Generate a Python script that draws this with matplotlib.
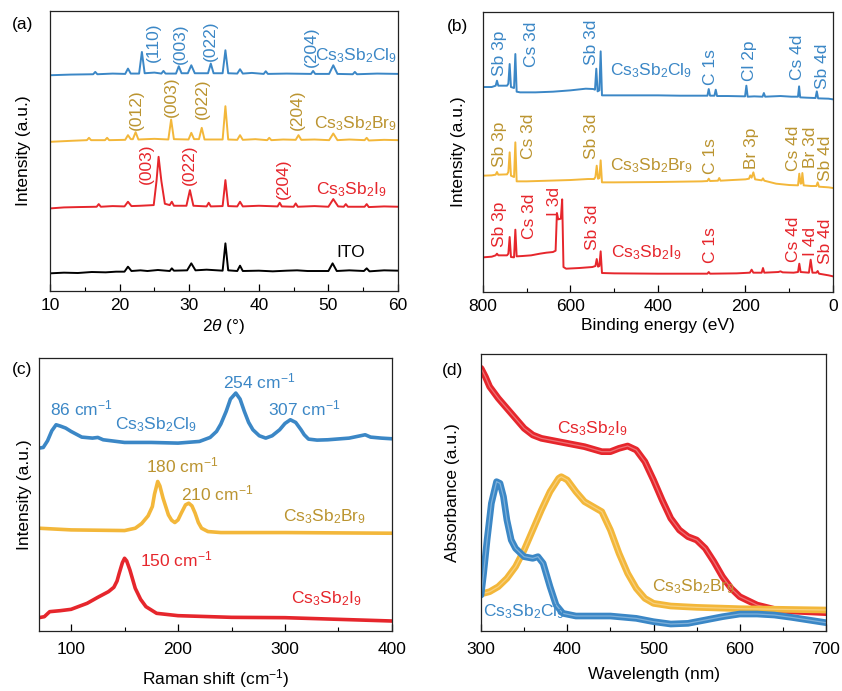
import numpy as np
import matplotlib
matplotlib.use('Agg')
import matplotlib.pyplot as plt
from matplotlib.ticker import MultipleLocator

plt.rcParams['font.family'] = ['Liberation Sans', 'DejaVu Sans']
plt.rcParams['mathtext.fontset'] = 'custom'
plt.rcParams['mathtext.rm'] = 'Liberation Sans'
plt.rcParams['mathtext.it'] = 'Liberation Sans:italic'
plt.rcParams['font.size'] = 12.5

BLUE = '#3b87c6'
YELLOW = '#f3b73a'
RED = '#e6262c'
GOLD_TXT = '#bb9430'

CL = 'Cs$_\\mathregular{3}$Sb$_\\mathregular{2}$Cl$_\\mathregular{9}$'
BR = 'Cs$_\\mathregular{3}$Sb$_\\mathregular{2}$Br$_\\mathregular{9}$'
IO = 'Cs$_\\mathregular{3}$Sb$_\\mathregular{2}$I$_\\mathregular{9}$'
CM = ' cm$^{\\mathregular{-1}}$'

# (a) XRD, 2theta in degrees, intensity in a.u. (offset stacks)
xrd_ito_x = [10, 12, 14, 16, 18, 19.5, 20.7, 21.2, 21.7, 23, 24, 25.5, 27.2, 27.5, 27.8, 29.7, 30.3, 30.9,
             32.5, 34.8, 35.2, 35.6, 36.9, 37.3, 37.7, 40, 42, 44, 45.5, 47, 50.0, 50.6, 51.2, 53,
             55.1, 55.5, 55.9, 58, 60]
xrd_ito_y = [53, 55, 54, 57, 56, 58, 58, 73, 60, 62, 60, 63, 60, 68, 61, 62, 83, 62,
             64, 61, 143, 62, 60, 76, 60, 61, 59, 61, 62, 60, 60, 83, 60, 62,
             60, 68, 59, 62, 61]
xrd_i_x = [10, 12, 14, 16.7, 17, 17.3, 19, 20.7, 21.2, 21.7, 23, 24.9, 25.3, 25.6, 26.0, 26.5, 27.2, 27.5,
           27.8, 29.6, 30.1, 30.6, 32.5, 32.8, 33.1, 34.8, 35.2, 35.6, 36.9, 37.3, 37.7, 40, 42.7, 43.0,
           43.3, 45.0, 45.3, 45.6, 48, 50.0, 50.7, 51.4, 52.2, 52.5, 52.8, 55.2, 55.5, 55.8, 58, 60]
xrd_i_y = [248, 251, 252, 253, 261, 253, 255, 254, 268, 255, 256, 258, 330, 403, 330, 262, 258, 268,
           256, 256, 303, 256, 254, 265, 254, 255, 333, 255, 254, 268, 254, 256, 254, 265,
           254, 253, 263, 253, 255, 253, 276, 254, 253, 261, 253, 253, 261, 252, 254, 253]
xrd_br_x = [10, 13, 15.3, 15.6, 15.9, 17.9, 18.2, 18.5, 20.8, 21.2, 21.6, 21.9, 22.3, 22.7, 25, 27.0, 27.4,
            27.8, 29.9, 30.3, 30.7, 31.4, 31.8, 32.2, 34.8, 35.2, 35.6, 36.9, 37.3, 37.7, 39.5, 41.2,
            41.5, 41.8, 43.5, 45.3, 45.7, 46.1, 48, 50.1, 50.7, 51.3, 53, 55.2, 55.5, 55.8, 58, 60]
xrd_br_y = [448, 451, 453, 460, 453, 453, 460, 453, 454, 468, 456, 456, 477, 455, 457, 455, 515,
            456, 455, 475, 456, 456, 490, 455, 455, 555, 455, 454, 468, 454, 456, 453,
            460, 453, 455, 454, 468, 454, 455, 453, 473, 453, 455, 453, 460, 452, 454, 453]
xrd_cl_x = [10, 13, 16.2, 16.5, 16.8, 19, 20.8, 21.2, 21.6, 22.8, 23.2, 23.6, 25, 26.0, 26.3, 26.6, 28.1,
            28.5, 28.9, 29.8, 30.3, 30.8, 32.7, 33.1, 33.5, 34.8, 35.2, 35.6, 36.9, 37.3, 37.7, 39,
            40.7, 41.0, 41.3, 44, 47.5, 47.8, 48.1, 50.1, 50.7, 51.3, 53.5, 53.8, 54.1, 57, 60]
xrd_cl_y = [648, 650, 651, 658, 651, 653, 652, 668, 653, 653, 718, 654, 656, 653, 661, 653, 653,
            675, 654, 654, 678, 654, 654, 683, 654, 654, 723, 654, 653, 666, 653, 655,
            652, 660, 652, 653, 652, 661, 652, 652, 678, 652, 651, 658, 651, 653, 652]

# (b) XPS survey, binding energy in eV
xps_cl_x = [800, 780, 771, 768, 765, 745, 742, 739, 736, 729, 726, 723, 715, 680, 640, 600, 565, 548, 544,
            541, 538, 534, 531, 528, 520, 450, 400, 350, 300, 287, 284, 281, 271, 268, 265, 240, 201,
            198, 195, 180, 161, 158, 155, 120, 95, 80, 77.5, 75, 60, 40, 37, 34, 10, 0]
xps_cl_y = [615, 615, 619, 634, 619, 619, 625, 684, 615, 612, 714, 601, 599, 599, 601, 605, 610, 609, 607,
            670, 602, 605, 722, 590, 590, 590, 590, 589, 589, 589, 609, 589, 589, 607, 588, 588, 587,
            619, 586, 587, 586, 597, 586, 588, 586, 586, 617, 584, 583, 582, 602, 581, 580, 578]
xps_br_x = [800, 780, 771, 768, 765, 745, 742, 739, 736, 729, 726, 723, 700, 650, 600, 560, 546, 543, 540,
            537, 534, 531, 528, 500, 400, 300, 287, 284, 281, 263, 260, 257, 230, 200, 192, 189, 186,
            182, 178, 163, 160, 157, 130, 100, 80, 77, 74, 72, 70, 67, 50, 38, 35, 32, 10, 0]
xps_br_y = [349, 350, 352, 360, 352, 353, 360, 419, 349, 345, 449, 332, 332, 334, 336, 339, 339, 345, 379,
            340, 342, 395, 329, 329, 330, 332, 333, 340, 333, 334, 342, 334, 336, 338, 340, 350, 343,
            359, 338, 335, 341, 334, 325, 321, 320, 355, 325, 326, 357, 320, 318, 318, 329, 316, 314, 312]
xps_i_x = [800, 780, 771, 768, 765, 745, 742, 739, 736, 729, 726, 723, 710, 690, 670, 655, 640, 634, 631,
           628, 622, 619, 616, 610, 580, 550, 543, 540, 537, 534, 531, 528, 500, 400, 300, 287, 284,
           281, 220, 190, 186, 182, 163, 160, 157, 125, 120, 115, 90, 80, 77, 74, 55, 51, 47, 38, 35,
           32, 10, 0]
xps_i_y = [104, 106, 110, 115, 110, 110, 115, 165, 105, 104, 187, 107, 108, 110, 115, 118, 120, 124, 237,
           218, 220, 278, 75, 70, 72, 75, 78, 99, 76, 78, 122, 57, 56, 55, 55, 55, 60,
           55, 56, 58, 67, 58, 58, 72, 58, 60, 62, 59, 58, 60, 85, 60, 58, 97, 58, 58, 63,
           55, 50, 47]

# (c) Raman, shift in cm-1
ram_cl_x = [70, 74, 78, 82, 86, 90, 95, 100, 110, 120, 125, 130, 150, 175, 200, 220, 230, 236, 240, 245,
            249, 254, 258, 262, 266, 270, 276, 282, 288, 295, 300, 305, 310, 315, 318, 322, 330, 340,
            360, 375, 380, 390, 400]
ram_cl_y = [548, 550, 570, 600, 618, 614, 608, 598, 581, 578, 580, 573, 565, 565, 563, 568, 580, 598, 620,
            658, 695, 713, 695, 658, 625, 603, 585, 578, 585, 603, 622, 633, 625, 603, 588, 575, 572, 573,
            578, 588, 581, 578, 576]
ram_br_x = [70, 100, 150, 160, 166, 172, 176, 178, 181, 183, 186, 191, 194, 197, 200, 203, 207, 210, 213,
            216, 219, 222, 228, 240, 300, 400]
ram_br_y = [308, 303, 301, 308, 322, 345, 373, 410, 448, 435, 398, 348, 332, 325, 333, 353, 378, 383, 375,
            353, 325, 308, 298, 295, 295, 293]
ram_i_x = [70, 75, 80, 90, 100, 115, 125, 135, 140, 143, 145, 148, 150, 152, 155, 158, 160, 165, 170, 180,
           200, 250, 300, 400]
ram_i_y = [40, 43, 58, 61, 65, 83, 101, 118, 131, 150, 173, 205, 218, 210, 183, 150, 128, 95, 73, 53,
           46, 41, 40, 30]

# (d) UV-vis absorbance, wavelength in nm
abs_i_x = [300, 305, 310, 320, 330, 340, 350, 360, 370, 380, 400, 420, 440, 450, 460, 470, 480, 490,
           500, 510, 520, 530, 540, 550, 560, 570, 580, 590, 600, 620, 640, 660, 700]
abs_i_y = [788, 763, 733, 698, 668, 638, 608, 588, 578, 573, 563, 553, 538, 538, 548, 555, 543, 508,
           453, 393, 338, 303, 283, 273, 248, 208, 163, 128, 103, 78, 65, 60, 55]
abs_br_x = [300, 310, 320, 330, 340, 350, 360, 370, 380, 390, 393, 400, 410, 420, 430, 440, 450, 460,
            470, 480, 490, 500, 520, 550, 600, 650, 700]
abs_br_y = [111, 118, 133, 158, 193, 243, 303, 363, 418, 458, 463, 453, 418, 388, 373, 358, 303, 233,
            173, 128, 98, 83, 75, 71, 67, 65, 63]
abs_cl_x = [300, 303, 307, 312, 318, 322, 326, 330, 335, 340, 350, 360, 366, 372, 380, 387, 395, 410,
            450, 480, 500, 520, 540, 560, 580, 600, 620, 640, 660, 680, 700]
abs_cl_y = [108, 173, 273, 383, 448, 443, 403, 333, 273, 248, 223, 218, 223, 203, 133, 78, 53, 45,
            45, 38, 28, 21, 23, 33, 43, 51, 51, 48, 41, 33, 25]

fig = plt.figure(figsize=(8.42, 6.91), dpi=100)
ax_a = fig.add_axes([0.0594, 0.5789, 0.4133, 0.4052])
ax_b = fig.add_axes([0.5736, 0.5774, 0.4157, 0.4052])
ax_c = fig.add_axes([0.0463, 0.0868, 0.4192, 0.3951])
ax_d = fig.add_axes([0.5713, 0.0868, 0.4097, 0.4009])


def style(ax, major, minor, pad):
    ax.set_yticks([])
    ax.xaxis.set_major_locator(MultipleLocator(major))
    ax.xaxis.set_minor_locator(MultipleLocator(minor))
    ax.tick_params(axis='x', which='major', direction='in', length=5, width=0.9, pad=pad, labelsize=12.5)
    ax.tick_params(axis='x', which='minor', direction='in', length=3, width=0.8)
    for s in ax.spines.values():
        s.set_linewidth(0.9)
        s.set_color('#222222')


# ---- (a)
ax_a.plot(xrd_ito_x, xrd_ito_y, color='black', lw=1.4)
ax_a.plot(xrd_i_x, xrd_i_y, color=RED, lw=1.4)
ax_a.plot(xrd_br_x, xrd_br_y, color=YELLOW, lw=1.4)
ax_a.plot(xrd_cl_x, xrd_cl_y, color=BLUE, lw=1.4)
ax_a.set_xlim(10, 60)
ax_a.set_ylim(0, 841)
style(ax_a, 10, 5, 5)
ax_a.set_xlabel('2$\\theta$ (°)', labelpad=3)
ax_a.set_ylabel('Intensity (a.u.)', labelpad=14)
for lab, x, y, c in [('(110)', 24.8, 748, BLUE), ('(003)', 28.7, 743, BLUE), ('(022)', 33.1, 753, BLUE),
                     ('(204)', 47.5, 733, BLUE),
                     ('(012)', 22.4, 545, GOLD_TXT), ('(003)', 27.5, 583, GOLD_TXT), ('(022)', 31.9, 578, GOLD_TXT),
                     ('(204)', 45.5, 543, GOLD_TXT),
                     ('(003)', 23.9, 383, RED), ('(022)', 30.0, 378, RED), ('(204)', 43.5, 338, RED)]:
    ax_a.text(x, y, lab, color=c, rotation=90, ha='center', va='center')
ax_a.text(59.9, 708, CL, color=BLUE, ha='right', va='center')
ax_a.text(59.9, 503, BR, color=GOLD_TXT, ha='right', va='center')
ax_a.text(58.3, 303, IO, color=RED, ha='right', va='center')
ax_a.text(51.1, 116, 'ITO', color='black', ha='left', va='center')
fig.text(12 / 842, 1 - 25 / 691, '(a)', ha='left', va='center', fontsize=12.5)

# ---- (b)
ax_b.plot(xps_cl_x, xps_cl_y, color=BLUE, lw=1.4)
ax_b.plot(xps_br_x, xps_br_y, color=YELLOW, lw=1.4)
ax_b.plot(xps_i_x, xps_i_y, color=RED, lw=1.4)
ax_b.set_xlim(800, 0)
ax_b.set_ylim(0, 840)
style(ax_b, 200, 100, 5)
ax_b.set_xlabel('Binding energy (eV)', labelpad=3)
ax_b.set_ylabel('Intensity (a.u.)', labelpad=12)
for lab, x, y, c in [('Sb 3p', 762, 717, BLUE), ('Cs 3d', 689, 744, BLUE), ('Sb 3d', 552, 749, BLUE),
                     ('C 1s', 280, 675, BLUE), ('Cl 2p', 190, 695, BLUE), ('Cs 4d', 80, 705, BLUE),
                     ('Sb 4d', 23, 677, BLUE),
                     ('Sb 3p', 762, 442, GOLD_TXT), ('Cs 3d', 697, 467, GOLD_TXT), ('Sb 3d', 552, 467, GOLD_TXT),
                     ('C 1s', 280, 407, GOLD_TXT), ('Br 3p', 187, 430, GOLD_TXT), ('Cs 4d', 90, 432, GOLD_TXT),
                     ('Br 3d', 52, 434, GOLD_TXT), ('Sb 4d', 17, 402, GOLD_TXT),
                     ('Sb 3p', 762, 202, RED), ('Cs 3d', 693, 227, RED), ('I 3d', 636, 272, RED),
                     ('Sb 3d', 549, 194, RED), ('C 1s', 280, 142, RED), ('Cs 4d', 90, 159, RED),
                     ('I 4d', 52, 152, RED), ('Sb 4d', 17, 152, RED)]:
    ax_b.text(x, y, lab, color=c, rotation=90, ha='center', va='center')
ax_b.text(510, 664, CL, color=BLUE, ha='left', va='center')
ax_b.text(510, 379, BR, color=GOLD_TXT, ha='left', va='center')
ax_b.text(507, 117, IO, color=RED, ha='left', va='center')
fig.text(447 / 842, 1 - 26 / 691, '(b)', ha='left', va='center', fontsize=12.5)

# ---- (c)
ax_c.plot(ram_cl_x, ram_cl_y, color=BLUE, lw=2.6)
ax_c.plot(ram_br_x, ram_br_y, color=YELLOW, lw=2.6)
ax_c.plot(ram_i_x, ram_i_y, color=RED, lw=2.6)
ax_c.set_xlim(70, 400)
ax_c.set_ylim(0, 818)
style(ax_c, 100, 50, 8)
ax_c.set_xlabel('Raman shift (cm$^{\\mathregular{-1}}$)', labelpad=7)
ax_c.set_ylabel('Intensity (a.u.)', labelpad=5)
for lab, x, y, c in [('86' + CM, 80, 668, BLUE), ('254' + CM, 242, 748, BLUE), ('307' + CM, 284, 668, BLUE),
                     ('180' + CM, 170, 495, GOLD_TXT), ('210' + CM, 203, 411, GOLD_TXT),
                     ('150' + CM, 164, 215, RED),
                     (CL, 140.7, 618, BLUE), (BR, 298, 343, GOLD_TXT), (IO, 305.8, 98, RED)]:
    ax_c.text(x, y, lab, color=c, ha='left', va='center')
fig.text(12 / 842, 1 - 369 / 691, '(c)', ha='left', va='center', fontsize=12.5)

# ---- (d)
for xs, ys, c in [(abs_i_x, abs_i_y, RED), (abs_br_x, abs_br_y, YELLOW), (abs_cl_x, abs_cl_y, BLUE)]:
    ax_d.plot(xs, ys, color=c, lw=4.8, solid_capstyle='round')
    ax_d.plot(xs, ys, color='white', lw=0.9, alpha=0.35)
ax_d.set_xlim(300, 700)
ax_d.set_ylim(0, 831)
style(ax_d, 100, 50, 8)
ax_d.set_xlabel('Wavelength (nm)', labelpad=7)
ax_d.set_ylabel('Absorbance (a.u.)', labelpad=15)
ax_d.text(387.8, 608, IO, color=RED, ha='left', va='center')
ax_d.text(498, 133, BR, color=GOLD_TXT, ha='left', va='center')
ax_d.text(302.7, 58, CL, color=BLUE, ha='left', va='center')
fig.text(442 / 842, 1 - 370 / 691, '(d)', ha='left', va='center', fontsize=12.5)

fig.savefig('out.png', dpi=100)
